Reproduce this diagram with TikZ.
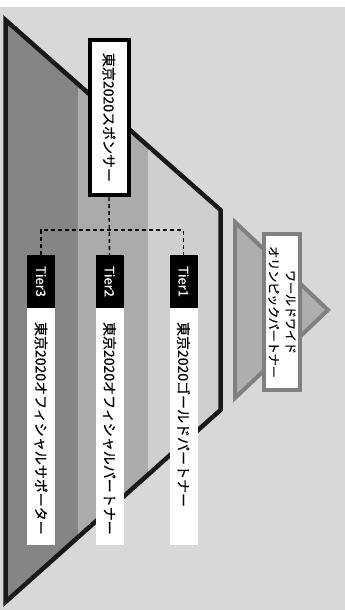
\documentclass[tikz,border=0pt]{standalone}
\usepackage{fontspec}
\newfontfamily\jpfont[FakeBold=0.5]{Noto Sans CJK JP}
\definecolor{bggray}{RGB}{216,216,216}
\definecolor{banddark}{RGB}{133,133,133}
\definecolor{bandmid}{RGB}{171,171,171}
\definecolor{bandlight}{RGB}{207,207,207}
\definecolor{wwedge}{RGB}{128,128,128}
\definecolor{wwfill}{RGB}{174,174,174}
\begin{document}
\begin{tikzpicture}[x=1pt, y=-1pt,
		every node/.style={rotate=-90, inner sep=0pt, font=\jpfont},
		sponsorbox/.style={draw=black, line width=4pt, fill=white, minimum width=155pt, minimum height=39pt, font=\jpfont\fontsize{14}{14}\selectfont},
		tierbox/.style={fill=black, text=white, minimum width=53pt, minimum height=28pt, font=\jpfont\fontsize{13}{13}\selectfont},
		labelbox/.style={fill=white, minimum height=28pt, text width=209pt, inner xsep=14pt, align=left, font=\jpfont\fontsize{14}{14}\selectfont},
		wwbox/.style={draw=wwedge, line width=4pt, fill=white, minimum width=156pt, minimum height=36pt, align=center, font=\jpfont\fontsize{12}{17}\selectfont},
		dashline/.style={line width=1.4pt, dash pattern=on 4pt off 3pt}]
		\useasboundingbox (0,0) rectangle (345,610);
		\fill[bggray] (0,7) rectangle (345,610);

		% pyramid with three bands
		\begin{scope}
			\clip (5.5,20) -- (220.5,210) -- (220.5,410) -- (5.5,602) -- cycle;
			\fill[banddark] (0,0) rectangle (78,610);
			\fill[bandmid] (78,0) rectangle (148,610);
			\fill[bandlight] (148,0) rectangle (225,610);
		\end{scope}
		\draw[line width=4.5pt, black!90] (5.5,20) -- (220.5,210) -- (220.5,410) -- (5.5,602) -- cycle;

		% small pyramid
		\draw[line width=4pt, draw=wwedge, fill=wwfill] (235,222) -- (328,310) -- (235,398) -- cycle;
		\node[wwbox] (ww) at (282,312) {ワールドワイド\\オリンピックパートナー};

		\node[sponsorbox] (sponsor) at (109,117.5) {東京2020スポンサー};

		\node[tierbox] (t3) at (41,281.5) {Tier3};
		\node[tierbox] (t2) at (109.5,281.5) {Tier2};
		\node[tierbox] (t1) at (183.5,281.5) {Tier1};

		\node[labelbox] (l3) at (41,426.5) {東京2020オフィシャルサポーター};
		\node[labelbox] (l2) at (109.5,426.5) {東京2020オフィシャルパートナー};
		\node[labelbox] (l1) at (183.5,426.5) {東京2020ゴールドパートナー};

		\coordinate (split) at (109,230);
		\draw[dashline] (sponsor.east) -- (t2.west);
		\draw[dashline] (t3.west) -- (t3.west |- split) -- (t1.west |- split) -- (t1.west);
	\end{tikzpicture}
\end{document}
